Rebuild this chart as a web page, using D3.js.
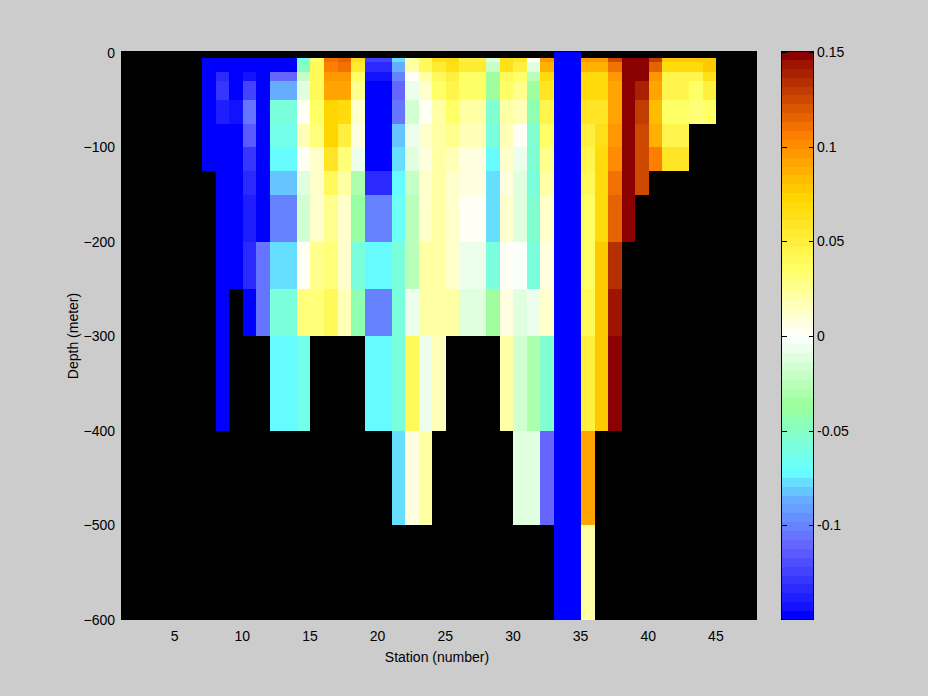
<!DOCTYPE html>
<html>
<head>
<meta charset="utf-8">
<script src="https://cdn.jsdelivr.net/npm/d3@7"></script>
<style>
html,body{margin:0;padding:0;background:#cccccc;}
svg{display:block;}
text{font-family:"Liberation Sans",Arial,sans-serif;font-size:14px;fill:#000;}
</style>
</head>
<body>
<svg id="chart" width="928" height="696"></svg>
<script>
const N = null;
// Depth edges of the grid (metres); cell i spans depthEdges[i]..depthEdges[i+1]
const depthEdges = [1,-5,-10,-20,-30,-50,-75,-100,-125,-150,-200,-250,-300,-400,-500,-600];

// Values per station, top to bottom (first entry is the 1..-5 m cap)
const s07 = [N,-.15,-.15,-.15,-.15,-.15,-.15,-.15];
const s08 = [N,-.15,-.15,-.135,-.13,-.14,-.15,-.15,-.15,-.15,-.15,-.15,-.15];
const s09 = [N,-.15,-.15,-.15,-.15,-.145,-.15,-.15,-.15,-.15,-.15];
const s10 = [N,-.15,-.15,-.145,-.125,-.105,-.115,-.13,-.135,-.14,-.135,-.15];
const s11 = [N,-.15,-.15,-.15,-.15,-.15,-.15,-.15,-.15,-.15,-.105,-.105];
const s12 = [N,-.15,-.15,-.11,-.085,-.058,-.062,-.072,-.08,-.1,-.078,-.058,-.072];
const s13 = [N,-.15,-.15,-.11,-.085,-.058,-.062,-.072,-.08,-.1,-.078,-.058,-.072];
const s14 = [N,-.065,-.05,-.023,-.012,.004,.017,.004,-.012,-.018,.003,.032,-.062];
const s15 = [N,.035,.042,.042,.042,.035,.03,.012,.012,.012,.028,.032];
const s16 = [N,.11,.105,.095,.09,.074,.074,.06,.042,.028,.03,.042];
const s17 = [N,.115,.11,.095,.09,.07,.048,.03,.02,.012,.01,.018];
const s18 = [N,.065,.055,.035,.028,.012,.008,-.006,-.03,-.038,-.06,-.045];
const s19 = [N,-.125,-.135,-.145,-.15,-.15,-.15,-.15,-.135,-.1,-.072,-.1,-.072];
const s20 = [N,-.125,-.135,-.145,-.15,-.15,-.15,-.15,-.135,-.1,-.072,-.1,-.072];
const s21 = [N,-.078,-.085,-.1,-.11,-.105,-.082,-.078,-.072,-.066,-.06,-.058,-.058,-.075];
const s22 = [N,.02,.02,.003,-.006,-.018,-.006,-.012,-.022,-.026,-.026,-.006,.04,.008];
const s23 = [N,.042,.04,.02,.012,.004,.012,.008,.012,.01,.02,.02,-.006,.02];
const s24 = [N,.062,.052,.04,.033,.022,.02,.022,.02,.02,.02,.02,.017];
const s25 = [N,.068,.063,.047,.043,.033,.025,.017,.012,.012,.012,.02];
const s26 = [N,.05,.052,.035,.033,.02,.017,.008,.005,.001,-.006,-.012];
const s27 = [N,.05,.052,.035,.033,.02,.017,.008,.005,.001,-.006,-.012];
const s28 = [N,-.012,-.023,-.037,-.037,-.053,-.06,-.072,-.078,-.078,-.06,-.033];
const s29 = [N,.065,.062,.042,.035,.022,.017,.012,.008,.012,.002,.008,.02];
const s30 = [N,.06,.05,.035,.024,.017,.004,-.006,-.012,-.012,-.003,-.012,-.018,-.012];
const s31 = [N,0,-.012,-.028,-.037,-.045,-.053,-.053,-.06,-.056,-.06,-.006,-.032,-.012];
const s32 = [N,.095,.088,.07,.057,.045,.035,.024,.02,.012,.008,.012,-.056,-.11];
const s33 = [-.15,-.15,-.15,-.15,-.15,-.15,-.15,-.15,-.15,-.15,-.15,-.15,-.15,-.15,-.15];
const s34 = [-.15,-.15,-.15,-.15,-.15,-.15,-.15,-.15,-.15,-.15,-.15,-.15,-.15,-.15,-.15];
const s35 = [N,.095,.088,.07,.068,.058,.05,.044,.04,.033,.033,.04,.05,.09,.02];
const s36 = [N,.095,.088,.07,.068,.058,.062,.068,.07,.07,.075,.075,.075];
const s37 = [N,.125,.11,.095,.09,.09,.095,.1,.11,.115,.135,.145,.15];
const s38 = [N,.148,.148,.148,.148,.148,.148,.148,.148,.148];
const s39 = [N,.148,.148,.148,.14,.13,.125,.125,.125];
const s40 = [N,.13,.115,.095,.09,.082,.088,.105];
const s41 = [N,.075,.068,.045,.045,.035,.045,.058];
const s42 = [N,.075,.068,.045,.045,.035,.045,.058];
const s43 = [N,.075,.068,.045,.035,.032];
const s44 = [N,.075,.075,.065,.05,.035];
const stations = [7,8,9,10,11,12,13,14,15,16,17,18,19,20,21,22,23,24,25,26,27,28,29,30,31,32,33,34,35,36,37,38,39,40,41,42,43,44];
const stationValues = [s07,s08,s09,s10,s11,s12,s13,s14,s15,s16,s17,s18,s19,s20,s21,s22,s23,s24,s25,s26,s27,s28,s29,s30,s31,s32,s33,s34,s35,s36,s37,s38,s39,s40,s41,s42,s43,s44];

const xTickValues = [5,10,15,20,25,30,35,40,45];
const yTickValues = [0,-100,-200,-300,-400,-500,-600];
const cbTickValues = [.15,.1,.05,0,-.05,-.1];
const cmapValues = [-.15,-.11,-.085,-.072,-.055,-.0375,0,.035,.072,.105,.15];
const cmapColors = ["#0000ff","#6666ff","#66b2ff","#66ffff","#7fffd4","#99ff99","#ffffff","#ffff66","#ffd700","#ff8000","#8b0000"];
const nLevels = 64;

const svg = d3.select("#chart");
const box = {l:121,r:757,t:51,b:620};
const cb = {l:781,r:814,t:51,b:620};

const x = d3.scaleLinear().domain([1,48]).range([box.l,box.r]);
const y = d3.scaleLinear().domain([-600,2]).range([box.b,box.t]);
const cy = d3.scaleLinear().domain([-.15,.15]).range([cb.b,cb.t+1]);

const smooth = d3.scaleLinear().domain(cmapValues).range(cmapColors).interpolate(d3.interpolateRgb).clamp(true);
const levelColors = d3.range(nLevels).map(i => smooth(-.15 + .3*(i===0?0:(i===nLevels-1?1:(i+.5)/nLevels))));
const color = d3.scaleQuantize().domain([-.15,.15]).range(levelColors);

svg.append("rect").attr("x",box.l).attr("y",box.t).attr("width",box.r-box.l).attr("height",box.b-box.t).attr("fill","#000");

const cells = stations.flatMap((s,i) => stationValues[i].map((v,r) => ({s,v,r}))).filter(d => d.v !== null);
svg.append("g").attr("shape-rendering","crispEdges").selectAll("rect").data(cells).join("rect")
  .attr("x",d => Math.round(x(d.s)))
  .attr("width",d => Math.round(x(d.s+1))-Math.round(x(d.s)))
  .attr("y",d => Math.round(y(depthEdges[d.r])))
  .attr("height",d => Math.round(y(depthEdges[d.r+1]))-Math.round(y(depthEdges[d.r])))
  .attr("fill",d => color(d.v));

// Main axes
const xAxis = svg.append("g").attr("transform",`translate(-1,${box.b})`)
  .call(d3.axisBottom(x).tickValues(xTickValues).tickSize(0).tickPadding(11));
const yAxis = svg.append("g").attr("transform",`translate(${box.l},0)`)
  .call(d3.axisLeft(y).tickValues(yTickValues).tickSize(0).tickPadding(6).tickFormat(d3.format("d")));
[xAxis,yAxis].forEach(a => { a.select(".domain").remove(); a.attr("font-size",null).attr("font-family",null); });

svg.append("text").attr("x",437).attr("y",662).attr("text-anchor","middle").text("Station (number)");
svg.append("text").attr("transform","translate(78,336) rotate(-90)").attr("text-anchor","middle").text("Depth (meter)");

// Colour bar
const lvlH = (cb.b-cb.t)/nLevels;
svg.append("g").attr("shape-rendering","crispEdges").selectAll("rect").data(levelColors).join("rect")
  .attr("x",cb.l).attr("width",cb.r-cb.l)
  .attr("y",(d,i) => Math.round(cb.b-(i+1)*lvlH))
  .attr("height",(d,i) => Math.round(cb.b-i*lvlH)-Math.round(cb.b-(i+1)*lvlH))
  .attr("fill",d => d);
svg.append("rect").attr("x",cb.l+.5).attr("y",cb.t+.5).attr("width",cb.r-cb.l-1).attr("height",cb.b-cb.t-1)
  .attr("fill","none").attr("stroke","#000").attr("shape-rendering","crispEdges");

const cbFmt = d => d === 0 ? "0" : String(d);
const cbR = svg.append("g").attr("transform",`translate(${cb.r-.5},0)`)
  .call(d3.axisLeft(cy).tickValues(cbTickValues).tickSize(5).tickFormat(""));
const cbL = svg.append("g").attr("transform",`translate(${cb.l+.5},0)`)
  .call(d3.axisRight(cy).tickValues(cbTickValues).tickSize(5).tickFormat(""));
const cbT = svg.append("g").attr("transform",`translate(${cb.r-1},0)`)
  .call(d3.axisRight(cy).tickValues(cbTickValues).tickSize(0).tickPadding(4).tickFormat(cbFmt));
[cbR,cbL,cbT].forEach(a => { a.select(".domain").remove(); a.attr("font-size",null).attr("font-family",null); });
svg.selectAll(".tick line").attr("shape-rendering","crispEdges");
</script>
</body>
</html>
